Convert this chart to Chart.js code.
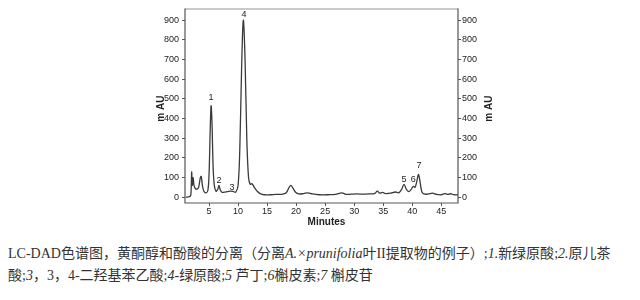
<!DOCTYPE html>
<html>
<head>
<meta charset="utf-8">
<script src="https://cdn.jsdelivr.net/npm/chart.js@4/dist/chart.umd.min.js"></script>
<style>
  html, body { margin: 0; padding: 0; background: #fff; }
  #wrap { position: relative; width: 640px; height: 230px; }
  .caption {
    margin: 12px 0 0 8px;
    font-family: "Liberation Serif", "DejaVu Serif", "Noto Sans CJK SC", serif;
    font-size: 14px;
    line-height: 20px;
    color: #333;
    white-space: nowrap;
  }
  .caption .cjk { font-family: "Noto Sans CJK SC", sans-serif; }
</style>
</head>
<body>
<div id="wrap"><canvas id="c" width="640" height="230"></canvas></div>
<div class="caption">LC-DAD<span class="cjk">色谱图，黄酮醇和酚酸的分离（分离</span><i>A.×prunifolia</i><span class="cjk">叶</span>II<span class="cjk">提取物的例子）</span>;<i>1.</i><span class="cjk">新绿原酸</span>;<i>2.</i><span class="cjk">原儿茶</span><br><span class="cjk">酸</span>;<i>3</i><span class="cjk">，</span>3<span class="cjk">，</span>4-<span class="cjk">二羟基苯乙酸</span>;<i>4-</i><span class="cjk">绿原酸</span>;<i>5</i> <span class="cjk">芦丁</span>;<i>6</i><span class="cjk">槲皮素</span>;<i>7</i> <span class="cjk">槲皮苷</span></div>
<script>
// chromatogram trace
const times = [1.0, 1.6, 1.85, 2.0, 2.1, 2.25, 2.4, 2.6, 2.9, 3.2, 3.5, 3.65, 3.85, 4.1, 4.5, 4.8,
  5.0, 5.2, 5.35, 5.5, 5.7, 5.9, 6.2, 6.5, 6.7, 6.9, 7.2, 7.6, 8.2, 8.8, 9.2, 9.6,
  10.0, 10.3, 10.6, 10.9, 11.2, 11.5, 11.8, 12.1, 12.4, 12.8, 13.3, 13.8, 14.5, 15.5, 16.5, 17.5,
  18.3, 18.8, 19.1, 19.4, 19.9, 20.5, 21.3, 22.0, 22.8, 24.0, 25.5, 26.8, 27.9, 28.6, 29.5, 30.5,
  31.5, 32.5, 33.5, 34.0, 34.4, 34.9, 35.4, 36.3, 37.1, 37.7, 38.2, 38.6, 39.0, 39.4, 39.8, 40.2,
  40.5, 40.8, 41.1, 41.4, 41.7, 42.2, 42.8, 43.5, 44.2, 45.0, 45.6, 46.1, 46.6, 47.2, 48.0];
const mAU = [0, 2, 10, 128, 60, 100, 60, 45, 40, 50, 100, 105, 60, 30, 22, 35,
  120, 350, 465, 380, 150, 60, 30, 40, 60, 40, 25, 25, 28, 30, 28, 25,
  60, 250, 650, 900, 700, 300, 100, 65, 68, 50, 30, 18, 12, 12, 14, 14,
  22, 50, 60, 48, 25, 16, 18, 22, 16, 12, 12, 14, 22, 14, 15, 16,
  15, 16, 18, 30, 20, 24, 18, 20, 26, 22, 40, 65, 40, 28, 38, 55,
  50, 80, 115, 70, 25, 15, 16, 20, 14, 12, 18, 14, 17, 12, 12];

// peak numbers and where they sit
const peakNames = ['1', '2', '3', '4', '5', '6', '7'];
const peakLabelTimes = [5.35, 6.7, 8.97, 11.0, 38.6, 40.2, 41.2];
const peakLabelValues = [505, 86, 50, 929, 91, 91, 162];

const xTicks = [5, 10, 15, 20, 25, 30, 35, 40, 45];
const yTicks = [0, 100, 200, 300, 400, 500, 600, 700, 800, 900];

const tickFont = { family: 'Liberation Sans, Arial, sans-serif', size: 9 };

// frame, peak numbers and axis titles
const decorPlugin = {
  id: 'decor',
  afterDraw(chart) {
    const ctx = chart.ctx;
    const a = chart.chartArea;
    const xs = chart.scales.x, ys = chart.scales.y;
    ctx.save();
    // top border is lighter
    ctx.strokeStyle = '#b8b8b8';
    ctx.lineWidth = 1.5;
    ctx.beginPath();
    ctx.moveTo(a.left, a.top + 0.5);
    ctx.lineTo(a.right, a.top + 0.5);
    ctx.stroke();
    ctx.strokeStyle = '#555';
    ctx.lineWidth = 1.2;
    ctx.beginPath();
    ctx.moveTo(a.left, a.top);
    ctx.lineTo(a.left, a.bottom);
    ctx.lineTo(a.right, a.bottom);
    ctx.lineTo(a.right, a.top);
    ctx.stroke();

    ctx.fillStyle = '#222';
    ctx.font = '9px Liberation Sans, Arial, sans-serif';
    ctx.textAlign = 'center';
    ctx.textBaseline = 'middle';
    peakNames.forEach((n, i) => {
      ctx.fillText(n, xs.getPixelForValue(peakLabelTimes[i]), ys.getPixelForValue(peakLabelValues[i]));
    });

    ctx.font = 'bold 10px Liberation Sans, Arial, sans-serif';
    ctx.fillText('Minutes', (a.left + a.right) / 2 + 5, a.bottom + 19);
    const mid = ys.getPixelForValue(450);
    [[161, mid], [489, mid]].forEach(([px, py]) => {
      ctx.save();
      ctx.translate(px, py);
      ctx.rotate(-Math.PI / 2);
      ctx.fillText('m AU', 0, 0);
      ctx.restore();
    });
    ctx.restore();
  }
};

new Chart(document.getElementById('c'), {
  type: 'line',
  data: {
    datasets: [{
      data: times.map((t, i) => ({ x: t, y: mAU[i] })),
      borderColor: '#3a3a3a',
      borderWidth: 1.3,
      pointRadius: 0,
      tension: 0.35,
      fill: false
    }]
  },
  options: {
    responsive: false,
    animation: false,
    layout: { padding: { top: 7, left: 0, right: 0, bottom: 0 } },
    plugins: { legend: { display: false }, tooltip: { enabled: false } },
    scales: {
      x: {
        type: 'linear',
        min: 0.85,
        max: 47.9,
        afterBuildTicks: s => { s.ticks = xTicks.map(v => ({ value: v })); },
        afterFit: s => { s.height = 27; },
        grid: { display: true, drawOnChartArea: false, tickLength: 3, color: '#555' },
        border: { display: false },
        ticks: { font: tickFont, color: '#222', padding: 0, maxRotation: 0 }
      },
      y: {
        position: 'left',
        min: -30,
        max: 960,
        afterBuildTicks: s => { s.ticks = yTicks.map(v => ({ value: v })); },
        afterFit: s => { s.width = 185; },
        grid: { display: true, drawOnChartArea: false, tickLength: 3, color: '#555' },
        border: { display: false },
        ticks: { font: tickFont, color: '#222', padding: 3 }
      },
      y2: {
        position: 'right',
        min: -30,
        max: 960,
        afterBuildTicks: s => { s.ticks = yTicks.map(v => ({ value: v })); },
        afterFit: s => { s.width = 182; },
        grid: { display: true, drawOnChartArea: false, tickLength: 3, color: '#555' },
        border: { display: false },
        ticks: { font: tickFont, color: '#222', padding: 1 }
      }
    }
  },
  plugins: [decorPlugin]
});
</script>
</body>
</html>
